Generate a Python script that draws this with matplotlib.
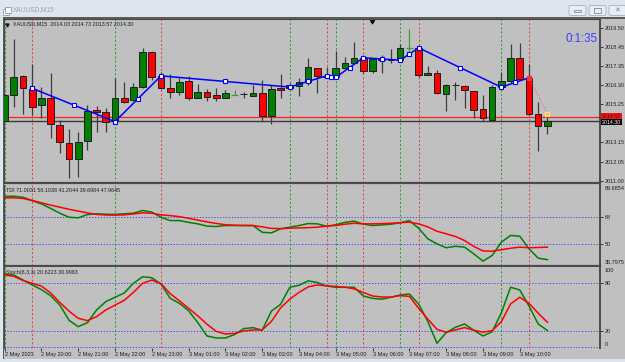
import matplotlib.pyplot as plt
from matplotlib.patches import Rectangle, FancyBboxPatch

plt.rcParams['font.family'] = ['Liberation Sans', 'DejaVu Sans']

W, H = 625, 362
FS = 4.0

# XAUUSD M15 candles (index 0 = 2 May 19:00)
opens = [2014.32, 2015.76, 2016.83, 2016.09, 2015.21, 2015.61, 2014.09, 2013.11, 2012.19, 2013.21,
         2014.91, 2014.82, 2014.32, 2015.58, 2015.48, 2016.22, 2018.17, 2016.82, 2016.13, 2015.91,
         2016.54, 2015.61, 2015.94, 2015.76, 2015.61, 2015.76, 2015.81, 2015.72, 2015.89, 2014.58,
         2016.17, 2016.17, 2016.28, 2016.50, 2017.24, 2016.83, 2016.74, 2017.24, 2017.56, 2017.80,
         2017.09, 2017.74, 2017.68, 2017.71, 2018.36, 2018.38, 2016.87, 2016.97, 2015.82, 2016.32,
         2016.26, 2015.98, 2014.97, 2014.37, 2016.22, 2016.56, 2017.80, 2016.72, 2014.69, 2014.03]
highs = [2015.80, 2018.87, 2016.87, 2017.47, 2016.22, 2016.97, 2014.37, 2013.87, 2013.69, 2015.20,
         2015.17, 2015.02, 2016.69, 2016.50, 2016.40, 2018.36, 2018.20, 2017.06, 2016.91, 2016.69,
         2016.83, 2016.36, 2016.09, 2016.17, 2016.04, 2016.04, 2015.94, 2016.32, 2016.59, 2016.32,
         2016.91, 2016.45, 2016.72, 2017.83, 2017.28, 2017.33, 2018.20, 2017.89, 2018.72, 2017.98,
         2017.80, 2018.00, 2018.32, 2018.58, 2019.41, 2018.44, 2017.39, 2017.15, 2016.35, 2016.50,
         2016.32, 2016.00, 2015.76, 2016.32, 2017.06, 2018.58, 2018.67, 2017.47, 2015.36, 2014.73]
lows = [2014.30, 2015.11, 2014.69, 2014.65, 2014.48, 2013.36, 2012.52, 2011.13, 2011.22, 2012.70,
        2013.69, 2013.72, 2014.28, 2015.30, 2015.40, 2016.17, 2016.59, 2016.10, 2015.61, 2015.76,
        2015.48, 2015.58, 2015.43, 2015.43, 2015.58, 2015.76, 2015.58, 2015.70, 2014.32, 2014.13,
        2015.61, 2016.10, 2015.72, 2016.32, 2015.86, 2016.72, 2016.70, 2017.20, 2017.54, 2016.97,
        2016.97, 2016.97, 2017.52, 2017.68, 2018.08, 2016.78, 2016.85, 2015.83, 2014.89, 2015.48,
        2015.02, 2014.47, 2014.32, 2014.37, 2016.20, 2016.43, 2016.59, 2014.65, 2012.65, 2013.57]
closes = [2015.76, 2016.78, 2016.13, 2015.09, 2015.61, 2014.13, 2013.17, 2012.21, 2013.17, 2014.87,
          2014.83, 2014.24, 2015.58, 2015.39, 2016.22, 2018.13, 2016.78, 2016.13, 2015.91, 2016.47,
          2015.61, 2015.94, 2015.67, 2015.61, 2015.86, 2015.76, 2015.80, 2015.89, 2014.58, 2016.09,
          2016.04, 2016.30, 2016.50, 2017.30, 2016.82, 2016.76, 2017.24, 2017.56, 2017.80, 2017.09,
          2017.74, 2017.70, 2017.74, 2018.36, 2018.36, 2016.87, 2016.97, 2015.86, 2016.32, 2016.31,
          2016.04, 2014.93, 2014.47, 2016.22, 2016.56, 2017.80, 2016.65, 2014.69, 2014.03, 2014.30]

# zigzag vertices
zz_idx = [3, 12, 17, 31, 35, 36, 39, 43, 45, 54, 57]
zz_val = [2016.13, 2014.28, 2016.82, 2016.20, 2016.83, 2016.74, 2017.83, 2017.69, 2018.38, 2016.19, 2016.72]
proj_idx = [57, 59]
proj_val = [2016.72, 2014.73]

sep_red = [3, 17, 35, 39, 45, 57]
sep_green = [0, 12, 31, 36, 43, 54]

bid, ask = 2014.30, 2014.52
price_ticks = [2019.50, 2018.45, 2017.35, 2016.30, 2015.25, 2014.20, 2013.15, 2012.05, 2011.00]
hidden_tick = 2014.20   # covered by the bid/ask boxes on the scale

tdi_green = [81.7, 81.9, 81.2, 79.0, 76.8, 73.8, 70.6, 67.9, 67.5, 69.7,
             70.2, 69.9, 69.8, 70.2, 70.6, 72.4, 71.3, 67.9, 65.7, 65.7,
             64.5, 63.5, 62.0, 61.7, 62.4, 62.4, 62.4, 62.4, 57.9, 57.5,
             60.2, 61.3, 62.4, 63.7, 63.5, 61.9, 62.9, 64.5, 65.3, 63.3,
             62.4, 62.8, 63.3, 64.2, 65.7, 60.6, 53.6, 50.2, 47.6, 48.6,
             48.0, 43.5, 38.7, 42.5, 51.3, 55.8, 55.3, 46.9, 40.7, 39.7]
tdi_red = [80.8, 80.8, 80.4, 79.0, 77.5, 76.0, 74.6, 73.2, 72.0, 70.8,
           69.8, 69.4, 69.3, 69.5, 70.1, 70.8, 70.6, 69.5, 69.0, 68.3,
           67.2, 66.0, 64.8, 63.8, 62.9, 62.6, 62.4, 62.4, 61.5, 60.5,
           60.3, 60.6, 60.8, 61.0, 61.3, 62.0, 62.4, 63.3, 63.9, 63.5,
           63.5, 63.7, 63.9, 64.3, 64.6, 63.5, 61.5, 58.6, 56.9, 55.1,
           52.4, 48.5, 45.5, 45.3, 46.3, 47.3, 48.0, 47.6, 47.8, 47.96]
tdi_min, tdi_max = 35.7975, 89.6854
tdi_readout = [71.0031, 56.1038, 41.2044, 39.6984, 47.9645]

sto_main = [91.7, 90.4, 84.2, 78.0, 72.0, 64.5, 52.7, 33.5, 25.4, 30.4,
            46.4, 56.9, 62.4, 67.8, 80.0, 88.3, 87.0, 79.0, 61.1, 54.8,
            45.5, 30.5, 13.7, 11.2, 11.2, 15.5, 23.0, 24.2, 21.0, 45.0,
            53.5, 75.0, 77.5, 83.1, 81.0, 76.6, 75.0, 75.0, 75.0, 64.0,
            61.0, 60.0, 62.5, 65.3, 66.5, 54.0, 32.0, 4.5, 17.9, 24.6,
            28.8, 21.0, 13.7, 19.1, 43.0, 75.0, 71.6, 51.4, 28.8, 20.6]
sto_signal = [90.4, 88.8, 83.5, 80.0, 76.5, 68.0, 56.0, 45.0, 36.0, 33.0,
              38.0, 46.4, 52.5, 58.5, 68.5, 80.0, 84.0, 79.5, 67.0, 58.0,
              48.5, 39.0, 28.5, 19.5, 16.2, 17.0, 20.0, 21.3, 21.3, 32.0,
              49.0, 60.0, 68.5, 75.5, 77.9, 76.8, 76.0, 75.0, 73.0, 68.5,
              64.0, 62.8, 62.6, 64.5, 63.5, 48.6, 35.0, 22.1, 18.4, 21.3,
              24.2, 21.0, 18.5, 20.5, 31.7, 54.0, 62.4, 54.8, 42.3, 31.0]
sto_readout = [20.6223, 30.9983]

time_pos = [0, 4, 8, 12, 16, 20, 24, 28, 32, 36, 40, 44, 48, 52, 56]
time_labels = ['2 May 2023', '2 May 20:00', '2 May 21:00', '2 May 22:00', '2 May 23:00',
               '3 May 01:00', '3 May 02:00', '3 May 03:00', '3 May 04:00', '3 May 05:00',
               '3 May 06:00', '3 May 07:00', '3 May 08:00', '3 May 09:00', '3 May 10:00']

BG = '#c0c0c0'
FRAME = '#4a4a4a'
LEVEL = '#3232ff'


def fx(x):
    return x / W


def fy(y):
    return 1 - y / H


def panel(x0, y0, x1, y1):
    a = fig.add_axes([fx(x0), fy(y1), fx(x1 - x0), (y1 - y0) / H])
    a.set_facecolor(BG)
    a.set_xlim(-0.065, 64.72)
    a.yaxis.tick_right()
    a.tick_params(axis='y', length=2, width=0.6, pad=1.2, labelsize=FS, colors='#1e1e1e')
    for s in a.spines.values():
        s.set_color(FRAME)
        s.set_linewidth(0.8)
    a.spines['right'].set_linewidth(1.4)
    a.set_xticks([])
    return a


fig = plt.figure(figsize=(W / 100, H / 100), dpi=100, facecolor=BG)

ax = panel(4, 19, 600, 183)
ax_tdi = panel(4, 184.5, 600, 265.5)
ax_sto = panel(4, 267, 600, 347.5)
ax.spines['bottom'].set_linewidth(1.6)
ax_tdi.spines['bottom'].set_linewidth(1.6)
ax_tdi.spines['top'].set_visible(False)
ax_sto.spines['top'].set_visible(False)
ax_sto.spines['bottom'].set_visible(False)

# separators
for a in (ax, ax_tdi, ax_sto):
    for i in sep_red:
        a.axvline(i, color='#e04848', lw=0.75, ls=(0, (2, 2)), zorder=1)
    for i in sep_green:
        a.axvline(i, color='#3a9a3a', lw=0.75, ls=(0, (2, 2)), zorder=1)

# candles
for i, (o, h, l, c) in enumerate(zip(opens, highs, lows, closes)):
    if c == o:
        ax.vlines(i, l, h, color='#3f9a3f', lw=0.9, zorder=3)
        ax.hlines(o, i - 0.36, i + 0.36, color='#3f9a3f', lw=0.9, zorder=3)
        continue
    ax.vlines(i, l, h, color='#3c3c3c', lw=0.9, zorder=3)
    ax.add_patch(Rectangle((i - 0.36, min(o, c)), 0.72, abs(c - o),
                           fc='#008000' if c > o else '#ff0000', ec='#1e1e1e', lw=0.7, zorder=4))

ax.axhline(ask, color='#ff2020', lw=0.9, zorder=2)
ax.axhline(bid, color='#3a3a3a', lw=1.0, zorder=2)

# zigzag
ax.plot(zz_idx, zz_val, color='#0000ff', lw=1.1, zorder=6)
mid_x = [(a + b) / 2 for a, b in zip(zz_idx[:-1], zz_idx[1:])]
mid_y = [(a + b) / 2 for a, b in zip(zz_val[:-1], zz_val[1:])]
ax.plot(zz_idx + mid_x, zz_val + mid_y, ls='none', marker='s', ms=2.8, mfc='white', mec='#0000ff', mew=0.8, zorder=7)
ax.plot(proj_idx, proj_val, color='#ff6060', lw=0.8, ls=(0, (1, 1.5)), zorder=6)
ax.plot(proj_idx[:1], proj_val[:1], ls='none', marker='s', ms=2.6, mfc='#ff3030', mec='#ff3030', zorder=8)
ax.plot(proj_idx[-1:], proj_val[-1:], ls='none', marker='s', ms=2.4, mfc='#ffc040', mec='#ffe080', zorder=8)

ax.set_ylim(2010.87, 2019.98)
ax.set_yticks(price_ticks, ['' if p == hidden_tick else f'{p:.2f}' for p in price_ticks])
# price boxes on the scale: ask box sits just above the bid box
mid_price = (ask + bid) / 2
ax.text(1.003, mid_price + 0.02, f'{ask:.2f}', transform=ax.get_yaxis_transform(), fontsize=3.8, va='bottom', ha='left',
        color='#202020', bbox=dict(boxstyle='square,pad=0.12', fc='#ff1010', ec='none'), zorder=9, clip_on=False)
ax.text(1.003, mid_price - 0.02, f'{bid:.2f}', transform=ax.get_yaxis_transform(), fontsize=3.8, va='top', ha='left',
        color='white', bbox=dict(boxstyle='square,pad=0.12', fc='#000000', ec='none'), zorder=10, clip_on=False)
ax.text(0.0155, 0.968, f'XAUUSD,M15  {opens[-1]:.2f} {highs[-1]:.2f} {lows[-1]:.2f} {closes[-1]:.2f}',
        transform=ax.transAxes, fontsize=3.9, va='center', ha='left', color='#1e1e1e')
ax.plot([0.0055], [0.965], transform=ax.transAxes, marker='v', ms=2.2, color='#1e1e1e', ls='none')
ax.plot([0.617], [0.99], transform=ax.transAxes, marker='v', ms=3.5, color='black', ls='none', clip_on=False)
ax.text(0.9955, 0.88, '0:1:35', transform=ax.transAxes, fontsize=8.3, va='center', ha='right', color='#3d3dff')

# TDI
x_all = list(range(len(closes)))
ax_tdi.plot(x_all, tdi_green, color='#008000', lw=1.1, zorder=4)
ax_tdi.plot(x_all, tdi_red, color='#ff0000', lw=1.1, zorder=5)
for lv in (68, 50):
    ax_tdi.axhline(lv, color=LEVEL, lw=0.6, ls=(0, (1.5, 2)), zorder=2)
ax_tdi.set_ylim(tdi_min, tdi_max)
ax_tdi.set_yticks([68, 50], ['68', '50'])
ax_tdi.text(1.008, 0.985, f'{tdi_max:.4f}', transform=ax_tdi.transAxes, fontsize=FS, va='top', ha='left', color='#1e1e1e')
ax_tdi.text(1.008, 0.01, f'{tdi_min:.4f}', transform=ax_tdi.transAxes, fontsize=FS, va='bottom', ha='left', color='#1e1e1e')
ax_tdi.text(0.004, 0.955, 'TDI ' + ' '.join(f'{v:.4f}' for v in tdi_readout), transform=ax_tdi.transAxes,
            fontsize=3.9, va='top', ha='left', color='#1e1e1e')

# Stochastic
ax_sto.plot(x_all, sto_main, color='#008000', lw=1.1, zorder=4)
ax_sto.plot(x_all, sto_signal, color='#ff0000', lw=1.1, zorder=5)
for lv in (80, 20, 0):
    ax_sto.axhline(lv, color=LEVEL, lw=0.6, ls=(0, (1.5, 2)), zorder=2, clip_on=False)
ax_sto.set_ylim(-0.8, 100.5)
ax_sto.set_yticks([80, 20], ['80', '20'])
ax_sto.text(1.008, 0.985, '100', transform=ax_sto.transAxes, fontsize=FS, va='top', ha='left', color='#1e1e1e')
ax_sto.text(1.008, 0.01, '0', transform=ax_sto.transAxes, fontsize=FS, va='bottom', ha='left', color='#1e1e1e')
ax_sto.text(0.004, 0.965, 'Stoch(8,3,3) ' + ' '.join(f'{v:.4f}' for v in sto_readout),
            transform=ax_sto.transAxes, fontsize=3.9, va='top', ha='left', color='#1e1e1e')
ax_sto.set_xticks(time_pos, time_labels)
ax_sto.tick_params(axis='x', length=2, width=0.6, pad=1.5, labelsize=FS, colors='#1e1e1e', direction='out')
for t in ax_sto.get_xticklabels():
    t.set_ha('left')

# window chrome
fig.add_artist(Rectangle((0, fy(17)), 1, 17 / H, transform=fig.transFigure, fc='#dde5ee', ec='none'))
fig.add_artist(Rectangle((0, fy(19)), 1, 2 / H, transform=fig.transFigure, fc='#5a5a5a', ec='none'))
fig.add_artist(Rectangle((0, fy(358.5)), fx(3.2), (358.5 - 17) / H, transform=fig.transFigure, fc='#dde5ee', ec='none'))
fig.add_artist(Rectangle((0, 0), 1, 3.5 / H, transform=fig.transFigure, fc='#dde5ee', ec='none'))
fig.add_artist(Rectangle((fx(3.2), fy(358.5)), fx(1), (358.5 - 19) / H, transform=fig.transFigure, fc='#5a5a5a', ec='none'))
fig.add_artist(Rectangle((fx(3), fy(15)), fx(6), 6 / H, transform=fig.transFigure, fc='white', ec='#8a9aac', lw=0.6))
fig.add_artist(Rectangle((fx(5), fy(13)), fx(6), 6 / H, transform=fig.transFigure, fc='#f4f8fc', ec='#8a9aac', lw=0.6))
fig.text(fx(13), fy(10), 'XAUUSD,M15', fontsize=4.7, color='#9aa3ae', va='center', ha='left')
for bx in (569, 589, 609):
    fig.add_artist(FancyBboxPatch((fx(bx), fy(15.5)), fx(17), 10 / H, boxstyle='round,pad=0,rounding_size=0.004',
                                  transform=fig.transFigure, fc='#e9eef4', ec='#a4b0be', lw=0.6))
fig.add_artist(Rectangle((fx(574), fy(11.5)), fx(7), 2 / H, transform=fig.transFigure, fc='none', ec='#6a7686', lw=0.5))
fig.add_artist(Rectangle((fx(594), fy(13)), fx(7), 5 / H, transform=fig.transFigure, fc='none', ec='#6a7686', lw=0.5))
fig.text(fx(617.5), fy(10.5), '✕', fontsize=5, color='#7a8696', va='center', ha='center', family=['DejaVu Sans'])

fig.savefig('out.png', dpi=100, facecolor=BG)
